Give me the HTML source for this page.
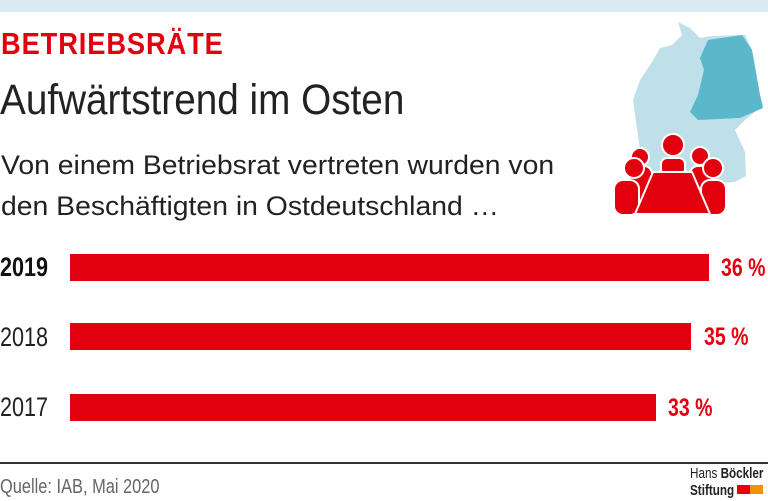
<!DOCTYPE html>
<html><head><meta charset="utf-8"><style>
body{margin:0;width:768px;height:501px;background:#fff;position:relative;overflow:hidden;font-family:"Liberation Sans",sans-serif}
.t{position:absolute;white-space:nowrap;transform-origin:0 0}
.bar{position:absolute;left:70px;height:27px;background:#e2000f}
</style></head><body>
<div style="position:absolute;left:0;top:0;width:768px;height:12px;background:#dcebf1"></div>
<div class="t" style="left:1px;top:26px;font-size:31px;font-weight:bold;color:#e2000f;letter-spacing:1px;transform:scaleX(0.88)">BETRIEBSRÄTE</div>
<div class="t" style="left:0;top:76px;font-size:43px;color:#222;transform:scaleX(0.9)">Aufwärtstrend im Osten</div>
<div class="t" style="left:1px;top:145px;font-size:27px;color:#222;line-height:41px;transform:scaleX(1.05)">Von einem Betriebsrat vertreten wurden von<br>den Beschäftigten in Ostdeutschland …</div>
<svg style="position:absolute;left:0;top:0" width="768" height="501">
<polygon fill="#bfe0e8" points="678,22 690,28 700,38 712,36 745,35 752,50 760,95 763,105 745,120 735,130 745,152 746,176 735,182 690,185 650,180 640,150 633,100 640,80 652,62 660,48 672,45 682,35"/>
<polygon fill="#5bb8cb" points="708,40 742,35 752,50 760,95 763,108 740,118 698,120 690,112 698,95 704,70 700,58"/>
<g fill="#e2000f" stroke="#fff" stroke-width="2">
<circle cx="640" cy="157" r="9"/><circle cx="700" cy="156" r="9"/>
<rect x="630" y="166" width="22" height="48" rx="8"/><rect x="690" y="166" width="22" height="48" rx="8"/>
<circle cx="634" cy="168" r="10"/><circle cx="713" cy="168" r="10"/>
<rect x="614" y="180" width="25" height="35" rx="9"/><rect x="701" y="180" width="25" height="35" rx="9"/>
<circle cx="673" cy="145" r="11"/><rect x="661" y="158" width="24" height="17" rx="6"/>
<polygon points="653,172 692,172 710,214 635,214"/>
</g>
</svg>
<div class="t" style="left:0;top:252px;font-size:27px;font-weight:bold;color:#111;transform:scaleX(0.8)">2019</div>
<div class="t" style="left:0;top:322px;font-size:27px;color:#222;transform:scaleX(0.8)">2018</div>
<div class="t" style="left:0;top:392px;font-size:27px;color:#222;transform:scaleX(0.8)">2017</div>
<div class="bar" style="top:254px;width:639px"></div>
<div class="bar" style="top:323px;width:621px"></div>
<div class="bar" style="top:394px;width:586px"></div>
<div class="t" style="left:721px;top:254px;font-size:25px;font-weight:bold;color:#e2000f;transform:scaleX(0.78)">36 %</div>
<div class="t" style="left:704px;top:323px;font-size:25px;font-weight:bold;color:#e2000f;transform:scaleX(0.78)">35 %</div>
<div class="t" style="left:668px;top:394px;font-size:25px;font-weight:bold;color:#e2000f;transform:scaleX(0.78)">33 %</div>
<div style="position:absolute;left:0;top:462px;width:768px;height:2px;background:#333"></div>
<div class="t" style="left:0;top:476px;font-size:20px;color:#666;transform:scaleX(0.82)">Quelle: IAB, Mai 2020</div>
<div class="t" style="left:690px;top:465px;font-size:15px;color:#222;line-height:17px;transform:scaleX(0.78)">Hans <b>Böckler</b><br><b>Stiftung</b></div>
<div style="position:absolute;left:737px;top:485px;width:13px;height:9px;background:#e2000f"></div>
<div style="position:absolute;left:750px;top:485px;width:13px;height:9px;background:#f39200"></div>
</body></html>
